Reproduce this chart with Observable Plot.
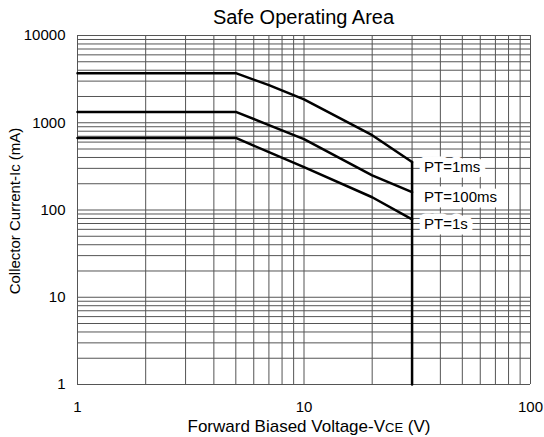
<!DOCTYPE html>
<html><head><meta charset="utf-8">
<script src="https://cdn.jsdelivr.net/npm/d3@7"></script>
<script src="https://cdn.jsdelivr.net/npm/@observablehq/plot@0.6"></script>
<style>html,body{margin:0;padding:0;background:#fff}</style>
</head><body><div id="chart"></div>
<script>
// Data
const vce = [1, 5, 7, 10, 20, 30];
const ic1ms = [3700, 3700, 2700, 1850, 720, 355];
const ic100ms = [1330, 1330, 940, 650, 250, 160];
const ic1s = [670, 670, 460, 310, 140, 78];
const seriesNames = ["PT=1ms", "PT=100ms", "PT=1s"];
const limitV = [30, 30];
const limitI = [355, 1];
const xTicks = [1, 10, 100];
const yTicks = [1, 10, 100, 1000, 10000];
const multipliers = [1, 2, 3, 4, 5, 6, 7, 8, 9];
const xDecades = [1, 10];
const yDecades = [1, 10, 100, 1000];

const xGrid = xDecades.flatMap(d => multipliers.map(m => m * d)).concat([100]);
const yGrid = yDecades.flatMap(d => multipliers.map(m => m * d)).concat([10000]);

const seriesValues = [ic1ms, ic100ms, ic1s];
const rows = seriesNames.flatMap((s, k) => vce.map((v, i) => ({series: s, v, ic: seriesValues[k][i]})));
const limitRows = limitV.map((v, i) => ({v, ic: limitI[i]}));
const labelRows = seriesNames.map((s, k) => ({series: s, v: vce[vce.length - 1], ic: seriesValues[k][vce.length - 1]}));

const font = "'Liberation Sans', Arial, Helvetica, sans-serif";

const chart = Plot.plot({
  width: 544,
  height: 437,
  marginLeft: 77,
  marginRight: 14,
  marginTop: 35,
  marginBottom: 53,
  x: {type: "log", domain: [1, 100]},
  y: {type: "log", domain: [1, 10000]},
  style: {fontFamily: font, fontSize: "15px", color: "#000", background: "#fff"},
  marks: [
    Plot.ruleX(xGrid, {stroke: "#555", strokeWidth: 1}),
    Plot.ruleY(yGrid, {stroke: "#555", strokeWidth: 1}),
    Plot.axisX(xTicks, {tickSize: 0, tickPadding: 17, label: null, tickFormat: d => String(d), fontSize: 15}),
    Plot.axisY(yTicks, {tickSize: 0, tickPadding: 12, label: null, tickFormat: d => String(d), fontSize: 15}),
    Plot.line(rows, {x: "v", y: "ic", z: "series", stroke: "#000", strokeWidth: 2.5}),
    Plot.line(limitRows, {x: "v", y: "ic", stroke: "#000", strokeWidth: 2.5}),
    Plot.text(labelRows, {x: "v", y: "ic", text: "series", textAnchor: "start", dx: 12, dy: 5,
      fill: "#000", stroke: "#fff", strokeWidth: 11, fontSize: 15})
  ]
});

const svg = d3.select(chart);
svg.append("text")
  .attr("x", 303.5).attr("y", 24)
  .attr("text-anchor", "middle")
  .attr("font-family", font).attr("font-size", 20).attr("fill", "#000")
  .text("Safe Operating Area");

const xl = svg.append("text")
  .attr("x", 309).attr("y", 432)
  .attr("text-anchor", "middle")
  .attr("font-family", font).attr("font-size", 17).attr("fill", "#000");
xl.append("tspan").text("Forward Biased Voltage-V");
xl.append("tspan").attr("font-size", 13).text("CE");
xl.append("tspan").text(" (V)");

svg.append("text")
  .attr("transform", "translate(20,211) rotate(-90)")
  .attr("text-anchor", "middle")
  .attr("font-family", font).attr("font-size", 15).attr("fill", "#000")
  .text("Collector Current-Ic (mA)");

document.getElementById("chart").appendChild(chart);
</script>
</body></html>
